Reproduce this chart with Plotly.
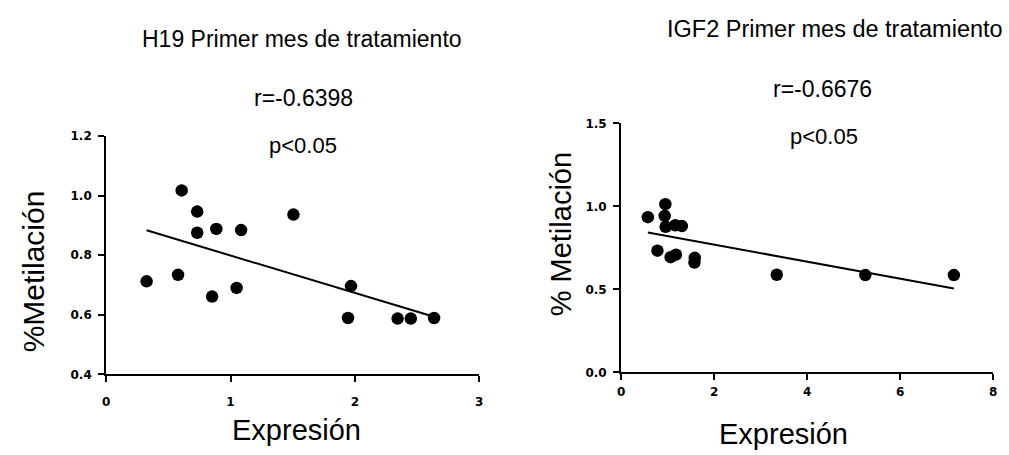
import numpy as np
import plotly.graph_objects as go

W, H = 1009, 455

# H19 data
h19_expr = [0.325, 0.607, 0.578, 0.732, 0.732, 0.886, 0.852, 1.085, 1.049, 1.506, 1.969, 1.945, 2.344, 2.45, 2.637]
h19_met = [0.712, 1.017, 0.734, 0.946, 0.875, 0.888, 0.661, 0.884, 0.690, 0.936, 0.696, 0.589, 0.587, 0.587, 0.589]

# IGF2 data
igf2_expr = [0.576, 0.952, 0.938, 0.959, 1.166, 1.308, 0.782, 1.066, 1.18, 1.585, 1.578, 3.348, 5.252, 7.157]
igf2_met = [0.935, 1.013, 0.943, 0.877, 0.886, 0.881, 0.733, 0.694, 0.709, 0.690, 0.662, 0.588, 0.586, 0.586]

titles = ["H19 Primer mes de tratamiento", "IGF2 Primer mes de tratamiento"]
r_labels = ["r=-0.6398", "r=-0.6676"]
p_labels = ["p<0.05", "p<0.05"]
ylabels = ["%Metilación", "% Metilación"]
xlabel = "Expresión"

left_xticks = [0, 1, 2, 3]
left_yticks = [0.4, 0.6, 0.8, 1.0, 1.2]
right_xticks = [0, 2, 4, 6, 8]
right_yticks = [0.0, 0.5, 1.0, 1.5]


def fitline(x, y):
    x = np.asarray(x); y = np.asarray(y)
    m, b = np.polyfit(x, y, 1)
    xs = np.array([x.min(), x.max()])
    return xs, m * xs + b


fig = go.Figure()
marker = dict(color="black", size=12.5)
fig.add_trace(go.Scatter(x=h19_expr, y=h19_met, mode="markers", marker=marker, xaxis="x", yaxis="y"))
lx, ly = fitline(h19_expr, h19_met)
fig.add_trace(go.Scatter(x=lx, y=ly, mode="lines", line=dict(color="black", width=2), xaxis="x", yaxis="y"))
fig.add_trace(go.Scatter(x=igf2_expr, y=igf2_met, mode="markers", marker=marker, xaxis="x2", yaxis="y2"))
lx2, ly2 = fitline(igf2_expr, igf2_met)
fig.add_trace(go.Scatter(x=lx2, y=ly2, mode="lines", line=dict(color="black", width=2), xaxis="x2", yaxis="y2"))

tickfont = dict(family="DejaVu Sans", size=12, color="black", weight="bold")
axcommon = dict(showline=True, linecolor="black", linewidth=2, ticks="outside", tickwidth=2,
                ticklen=6, tickcolor="black", showgrid=False, zeroline=False, tickfont=tickfont)

def px_x(p):
    return p / W

def px_y(p):
    return 1 - p / H

fig.update_layout(
    width=W, height=H, margin=dict(l=0, r=0, t=0, b=0),
    paper_bgcolor="white", plot_bgcolor="white", showlegend=False,
    xaxis=dict(domain=[px_x(103), px_x(479)], range=[0, 3], tickvals=left_xticks,
               ticktext=[str(v) for v in left_xticks], anchor="y", ticklabelstandoff=9, **axcommon),
    yaxis=dict(domain=[px_y(379), px_y(133)], range=[0.4, 1.2], tickvals=left_yticks,
               ticktext=[f"{v:.1f}" for v in left_yticks], anchor="x", ticklabelstandoff=4, **axcommon),
    xaxis2=dict(domain=[px_x(622), px_x(997)], range=[0, 8], tickvals=right_xticks,
                ticktext=[str(v) for v in right_xticks], anchor="y2", ticklabelstandoff=1, **axcommon),
    yaxis2=dict(domain=[px_y(377), px_y(120)], range=[0, 1.5], tickvals=right_yticks,
                ticktext=[f"{v:.1f}" for v in right_yticks], anchor="x2", ticklabelstandoff=4, **axcommon),
)

textfont = dict(family="Liberation Sans, Arial", color="black")

def ann(text, x, y, size, angle=0):
    fig.add_annotation(text=text, x=px_x(x), y=px_y(y), xref="paper", yref="paper",
                       showarrow=False, xanchor="center", yanchor="middle",
                       textangle=angle, font=dict(size=size, **textfont))

ann(titles[0], 300, 33, 23)
ann(r_labels[0], 302, 94, 23)
ann(p_labels[0], 301, 143, 22)
ann(titles[1], 838, 23, 23.5)
ann(r_labels[1], 825, 85, 23)
ann(p_labels[1], 827, 134, 22)
ann(ylabels[0], 30, 273, 30, -90)
ann(ylabels[1], 561, 235, 29, -90)
ann(xlabel, 295, 436, 29)
ann(xlabel, 786, 441, 29)

fig.write_html("out.html")
